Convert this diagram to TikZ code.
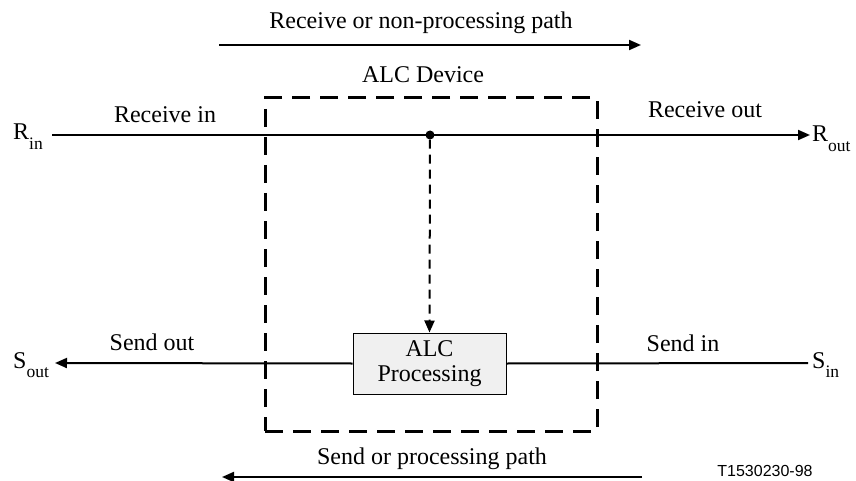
\documentclass[tikz,border=0pt]{standalone}
\usepackage{fontspec}
\setmainfont{Liberation Serif}
\newfontfamily\labelsans{Liberation Sans}
\usetikzlibrary{arrows.meta}
\newcommand{\subtxt}[1]{\raisebox{-0.38em}{\fontsize{17.5}{17.5}\selectfont #1}}
\begin{document}
\begin{tikzpicture}[x=1pt,y=-1pt,
  txt/.style={font=\fontsize{24}{27}\selectfont, inner sep=0pt},
  sig/.style={line width=2pt},
  arr/.style={-{Triangle[length=12pt,width=10pt]}},
  devbox/.style={draw, line width=3pt, dash pattern=on 18pt off 10pt, inner sep=0pt, minimum width=332pt, minimum height=333pt},
  procbox/.style={draw, line width=1pt, fill=gray!12, minimum width=153pt, minimum height=61pt, align=center, inner sep=0pt, font=\fontsize{24}{25}\selectfont},
  dotnode/.style={circle, fill, inner sep=0pt, minimum size=9pt}
]
\useasboundingbox (0,0) rectangle (856,481);

% device box
\node[devbox] (dev) at (431,264.5) {};
\node[txt] (devlbl) at (423,75) {ALC Device};

% processing box
\node[procbox] (proc) at (429.5,363.5) {ALC\\Processing};

% receive path
\node[txt, anchor=base west] (rin) at (13,140) {R\subtxt{in}};
\node[txt, anchor=base west] (rout) at (812,142) {R\subtxt{out}};
\coordinate (rinS) at (52,135);
\coordinate (routE) at (810,135);
\node[dotnode] (dot) at (430,135) {};
\draw[sig,arr] (rinS) -- (routE);
\draw[sig, dash pattern=on 9pt off 6pt, arr] (dot) -- (proc.north);
\node[txt] (recin) at (165,115) {Receive in};
\node[txt] (recout) at (705,110) {Receive out};

% send path
\node[txt, anchor=base west] (sout) at (13,368) {S\subtxt{out}};
\node[txt, anchor=base west] (sin) at (812,368) {S\subtxt{in}};
\coordinate (sinE) at (808,363);
\coordinate (soutE) at (55,363);
\draw[sig] (sinE) -- (proc.east);
\draw[sig,arr] (proc.west) -- (soutE);
\node[txt] (sendout) at (152,342) {Send out};
\node[txt] (sendin) at (683,343) {Send in};

% direction arrows
\node[txt] (toplbl) at (421,23) {Receive or non-processing path};
\coordinate (ta) at (219,45);
\coordinate (tb) at (641,45);
\draw[sig,arr] (ta) -- (tb);

\node[txt] (botlbl) at (432,459) {Send or processing path};
\coordinate (ba) at (642,477);
\coordinate (bb) at (222,477);
\draw[sig,arr] (ba) -- (bb);

\node[font=\labelsans\fontsize{16}{18}\selectfont, inner sep=0pt] (tag) at (765,471) {T1530230-98};
\end{tikzpicture}
\end{document}
